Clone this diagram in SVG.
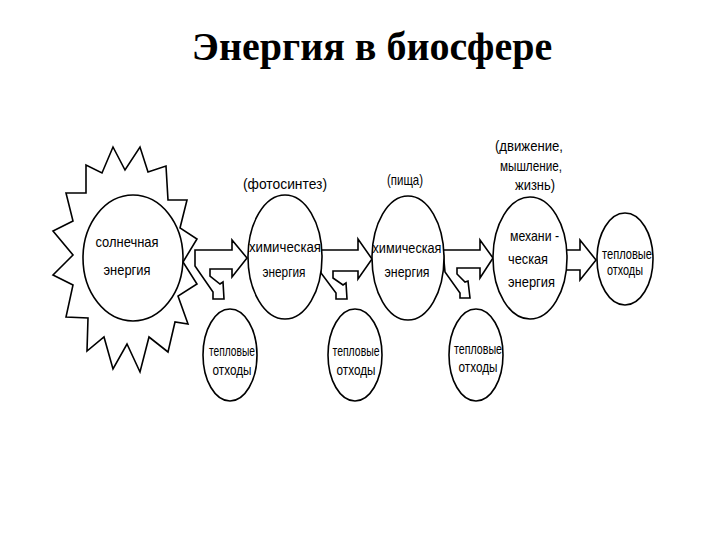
<svg xmlns="http://www.w3.org/2000/svg" width="720" height="540" viewBox="0 0 720 540">
<style>
.bg{fill:#fff}
.node{fill:#fff;stroke:#000;stroke-width:1.6}
.arr{fill:#fff;stroke:#000;stroke-width:1.6;stroke-linejoin:miter}
.t{font-family:"Liberation Sans","DejaVu Sans",sans-serif;font-size:15px;fill:#000;text-anchor:middle}
.ts{text-anchor:start}
.title{font-family:"Liberation Serif","Times New Roman",serif;font-size:40px;font-weight:bold;fill:#000;text-anchor:middle}
</style>
<rect class="bg" x="0" y="0" width="720" height="540"/>
<text class="title" x="372" y="60">Энергия в биосфере</text>

<g id="connectors">
  <polygon class="arr" points="195,250 232,250 232,240 247,258 232,277 232,269 210,269 210,276 220,284 223,282 224,299 213,299 213,292 195,266"/>
  <polygon class="arr" points="320,250 358,250 358,239 372,259 358,279 358,271 333,271 333,278 343,285 346,283 347,299 336,299 336,293 321,273"/>
  <polygon class="arr" points="443,250 480,250 480,240 493,258 480,278 480,268 457,268 457,274 465,282 468,281 470,298 460,298 460,293 445,272"/>
  <polygon class="arr" points="565,250 580,250 580,240 596,260 580,280 580,270 565,270"/>
</g>

<g id="sun">
  <polygon class="node" points="113,147 125,170 140,147 148,172 166,166 168,200 187,200 180,228 197,239 183,262 197,284 178,296 188,324 175,322 168,352 149,337 140,372 127,344 113,369 104,337 87,351 88,318 66,317 73,285 53,275 73,255 53,231 73,221 66,193 86,193 86,165 102,173"/>
  <ellipse class="node" cx="133" cy="258" rx="50" ry="63"/>
  <text class="t" x="127" y="247" textLength="63" lengthAdjust="spacingAndGlyphs">солнечная</text>
  <text class="t" x="127" y="275" textLength="47" lengthAdjust="spacingAndGlyphs">энергия</text>
</g>

<g id="chem1">
  <ellipse class="node" cx="285" cy="257" rx="37" ry="62"/>
  <text class="t" x="285" y="252" textLength="72" lengthAdjust="spacingAndGlyphs">химическая</text>
  <text class="t" x="284" y="277" textLength="43" lengthAdjust="spacingAndGlyphs">энергия</text>
</g>
<text class="t" x="285" y="189" textLength="84" lengthAdjust="spacingAndGlyphs">(фотосинтез)</text>

<g id="chem2">
  <ellipse class="node" cx="408" cy="258" rx="36" ry="62"/>
  <text class="t" x="407" y="253" textLength="69" lengthAdjust="spacingAndGlyphs">химическая</text>
  <text class="t" x="407" y="277" textLength="45" lengthAdjust="spacingAndGlyphs">энергия</text>
</g>
<text class="t" x="405" y="185" textLength="36" lengthAdjust="spacingAndGlyphs">(пища)</text>

<g id="mech">
  <ellipse class="node" cx="530" cy="258" rx="37" ry="61"/>
  <text class="t ts" x="510" y="241" textLength="49" lengthAdjust="spacingAndGlyphs">механи -</text>
  <text class="t ts" x="508" y="264" textLength="40" lengthAdjust="spacingAndGlyphs">ческая</text>
  <text class="t ts" x="508" y="287" textLength="47" lengthAdjust="spacingAndGlyphs">энергия</text>
</g>
<text class="t" x="529" y="151" textLength="68" lengthAdjust="spacingAndGlyphs">(движение,</text>
<text class="t" x="531" y="171" textLength="62" lengthAdjust="spacingAndGlyphs">мышление,</text>
<text class="t" x="535" y="190" textLength="40" lengthAdjust="spacingAndGlyphs">жизнь)</text>

<g id="waste4">
  <ellipse class="node" cx="625" cy="259" rx="28" ry="46"/>
  <text class="t" x="627" y="259" textLength="50" lengthAdjust="spacingAndGlyphs">тепловые</text>
  <text class="t" x="625" y="275" textLength="36" lengthAdjust="spacingAndGlyphs">отходы</text>
</g>

<g id="waste1">
  <ellipse class="node" cx="230" cy="355" rx="27" ry="46"/>
  <text class="t" x="232" y="356" textLength="46" lengthAdjust="spacingAndGlyphs">тепловые</text>
  <text class="t" x="232" y="375" textLength="39" lengthAdjust="spacingAndGlyphs">отходы</text>
</g>

<g id="waste2">
  <ellipse class="node" cx="355" cy="355" rx="27" ry="46"/>
  <text class="t" x="356" y="356" textLength="47" lengthAdjust="spacingAndGlyphs">тепловые</text>
  <text class="t" x="356" y="375" textLength="39" lengthAdjust="spacingAndGlyphs">отходы</text>
</g>

<g id="waste3">
  <ellipse class="node" cx="476" cy="355" rx="27" ry="46"/>
  <text class="t" x="478" y="354" textLength="48" lengthAdjust="spacingAndGlyphs">тепловые</text>
  <text class="t" x="478" y="372" textLength="39" lengthAdjust="spacingAndGlyphs">отходы</text>
</g>
</svg>
